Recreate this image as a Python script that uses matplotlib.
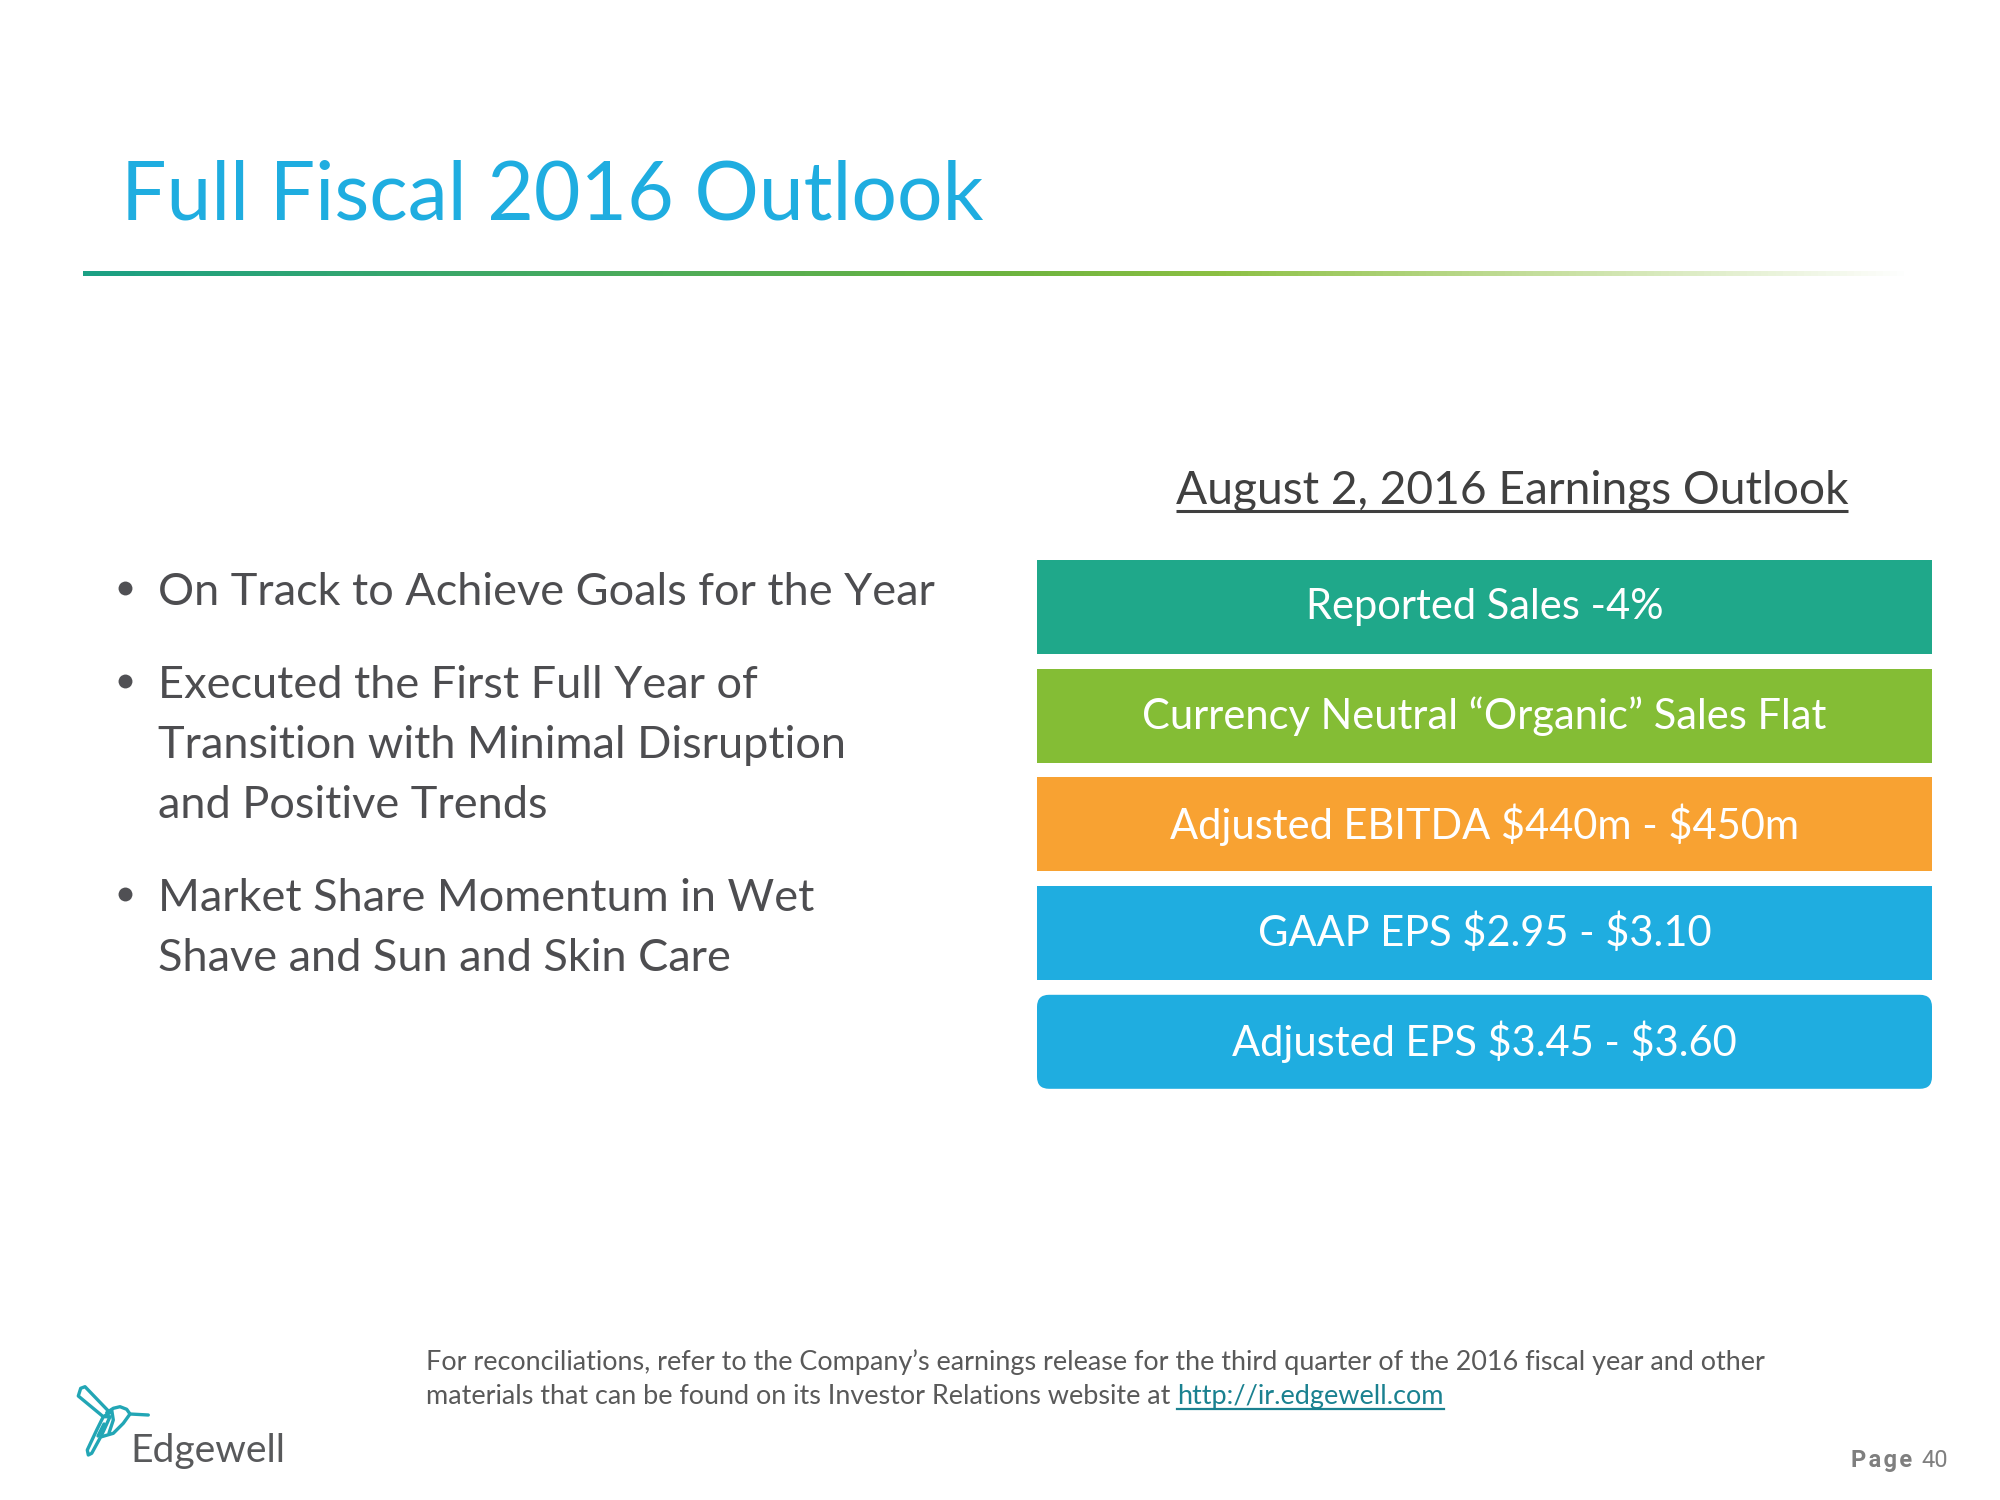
import matplotlib
matplotlib.use("Agg")
import matplotlib.pyplot as plt
import numpy as np
from matplotlib.patches import FancyBboxPatch, Polygon
from matplotlib.colors import LinearSegmentedColormap

# ---------------- data ----------------
title = "Full Fiscal 2016 Outlook"
heading = "August 2, 2016 Earnings Outlook"
bullets = [
    ["On Track to Achieve Goals for the Year"],
    ["Executed the First Full Year of", "Transition with Minimal Disruption", "and Positive Trends"],
    ["Market Share Momentum in Wet", "Shave and Sun and Skin Care"],
]
box_labels = [
    "Reported Sales -4%",
    "Currency Neutral \u201cOrganic\u201d Sales Flat",
    "Adjusted EBITDA $440m - $450m",
    "GAAP EPS $2.95 - $3.10",
    "Adjusted EPS $3.45 - $3.60",
]
box_colors = ["#1fa88a", "#84bd35", "#f8a232", "#1fade0", "#1fade0"]
footer_lines = [
    "For reconciliations, refer to the Company\u2019s earnings release for the third quarter of the 2016 fiscal year and other",
    "materials that can be found on its Investor Relations website at ",
]
footer_link = "http://ir.edgewell.com"
page_word = "Page"
page_num = "40"
logo_text = "Edgewell"

FONT = ["Lato", "DejaVu Sans"]
W, H = 2000, 1500

fig = plt.figure(figsize=(20, 15), dpi=100)
ax = fig.add_axes([0, 0, 1, 1])
ax.set_xlim(0, W)
ax.set_ylim(H, 0)
ax.axis("off")
fig.canvas.draw()
renderer = fig.canvas.get_renderer()


def fit(t, target_w):
    fs = t.get_fontsize()
    bb = t.get_window_extent(renderer)
    t.set_fontsize(fs * target_w / bb.width)
    return t


# ---------------- title ----------------
t = ax.text(121, 219, title, fontsize=60, color="#1fade0", family=FONT,
            ha="left", va="baseline", parse_math=False)
fit(t, 864)

# gradient line
grad_cmap = LinearSegmentedColormap.from_list(
    "g", [(0.0, "#1ba084"), (0.5, "#6cb33f"), (0.62, "#8cc043"),
          (0.8, "#c6df9e"), (1.0, "#ffffff")])
gx = np.linspace(0, 1, 512)[None, :]
ax.imshow(gx, cmap=grad_cmap, extent=[83, 1913, 276, 271], aspect="auto",
          interpolation="bilinear", zorder=1)
ax.set_xlim(0, W)
ax.set_ylim(H, 0)

# ---------------- heading ----------------
th = ax.text(1512, 504, heading, fontsize=30, color="#404040", family=FONT,
             ha="center", va="baseline", parse_math=False)
fit(th, 672)
fig.canvas.draw()
bb = th.get_window_extent(renderer)
ax.plot([bb.x0, bb.x1], [511, 511], color="#404040", lw=2.2, solid_capstyle="butt")

# ---------------- bullets ----------------
bullet_baselines = [[605], [698, 758, 818], [911, 971]]
probe = ax.text(158, 605, bullets[0][0], fontsize=30, family=FONT)
fit(probe, 777)
bfs = probe.get_fontsize()
probe.remove()
for lines, ys in zip(bullets, bullet_baselines):
    ax.plot([125], [ys[0] - 17], marker="o", markersize=10, color="#505054",
            markeredgewidth=0)
    for line, y in zip(lines, ys):
        ax.text(158, y, line, fontsize=bfs, color="#4d4d50", family=FONT,
                ha="left", va="baseline", parse_math=False)

# ---------------- boxes ----------------
x0, x1 = 1037, 1932
box_h = 94
tops = [560 + i * 108.7 for i in range(len(box_labels))]
probe = ax.text(0, 0, box_labels[1], fontsize=30, family=FONT)
fit(probe, 684)
lfs = probe.get_fontsize()
probe.remove()
for i, (lab, col, top) in enumerate(zip(box_labels, box_colors, tops)):
    if i == len(box_labels) - 1:
        p = FancyBboxPatch((x0 + 12, top + 12), (x1 - x0) - 24, box_h - 24,
                           boxstyle="round,pad=12", facecolor=col, edgecolor="none",
                           zorder=2)
        ax.add_patch(p)
    else:
        ax.barh(top + box_h / 2, x1 - x0, height=box_h, left=x0, color=col,
                edgecolor="none", zorder=2)
    ax.text((x0 + x1) / 2, top + box_h / 2, lab, fontsize=lfs, color="white",
            family=FONT, ha="center", va="center", zorder=3, parse_math=False)

# ---------------- footer ----------------
f1 = ax.text(426, 1370, footer_lines[0], fontsize=16, color="#595959", family=FONT,
             ha="left", va="baseline", parse_math=False)
fit(f1, 1346)
ffs = f1.get_fontsize()
f2 = ax.text(426, 1404, footer_lines[1], fontsize=ffs, color="#595959", family=FONT,
             ha="left", va="baseline", parse_math=False)
fig.canvas.draw()
b2 = f2.get_window_extent(renderer)
fl = ax.text(b2.x1, 1404, footer_link, fontsize=ffs, color="#1a8190", family=FONT,
             ha="left", va="baseline", parse_math=False)
fig.canvas.draw()
bl = fl.get_window_extent(renderer)
ax.plot([bl.x0, bl.x1], [1409, 1409], color="#1a8190", lw=1.6)

# page number
pn = ax.text(1948, 1467, page_num, fontsize=17, color="#7f7f7f",
             family=["Roboto", "DejaVu Sans"], ha="right", va="baseline")
fig.canvas.draw()
bpn = pn.get_window_extent(renderer)
ax.text(bpn.x0 - 9, 1467, "\u200a".join(page_word), fontsize=17, color="#7f7f7f",
        family=["Roboto", "DejaVu Sans"], fontweight="bold", ha="right", va="baseline")

# ---------------- logo ----------------
lt = ax.text(130, 1462, logo_text, fontsize=28, color="#58595b", family=FONT,
             ha="left", va="baseline")
fit(lt, 155)
bird_col = "#22a6b5"
upper_wing = [(78.3, 1396), (80.7, 1388.3), (85, 1386.7), (110, 1412.7), (103.3, 1416.7)]
lower_wing = [(110, 1416.7), (101.7, 1435), (91.7, 1453.3), (88.3, 1455),
              (87.3, 1450), (96.7, 1430), (103.3, 1416.7)]
for poly in (upper_wing, lower_wing):
    ax.add_patch(Polygon(poly, closed=True, fill=False, edgecolor=bird_col,
                         lw=2.4, joinstyle="round"))
head = [(106.7, 1412.7), (113.3, 1408.3), (120, 1406.7), (126.7, 1409.3),
        (130, 1414), (148.3, 1415)]
belly = [(130, 1414), (123.3, 1423.3), (113.3, 1433.3), (101.7, 1436.7)]
feather1 = [(111.7, 1410), (113.3, 1420), (109, 1433)]
feather2 = [(104, 1424), (98, 1436)]
for seg in (head, belly, feather1, feather2):
    xs, ys = zip(*seg)
    ax.plot(xs, ys, color=bird_col, lw=2.4, solid_capstyle="round",
            solid_joinstyle="round")

fig.savefig("out.png", dpi=100, facecolor="white")
